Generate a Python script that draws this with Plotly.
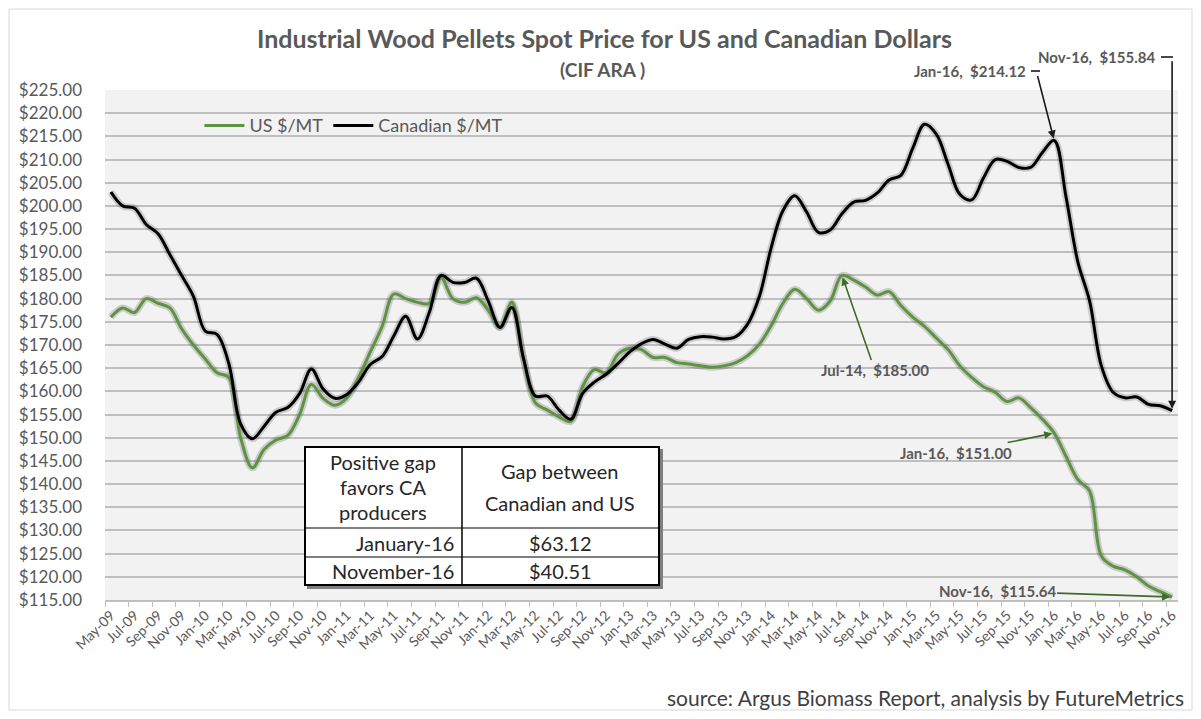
import pandas as pd
import plotly.graph_objects as go

# ---------------- data ----------------
months = list(pd.date_range("2009-05-01", "2016-11-01", freq="MS").strftime("%b-%y"))

us_price = [
    176, 178, 177, 180, 179, 178, 173.5, 170, 167, 164,
    163, 150, 143.5, 147.5, 149.5, 150.5, 155, 161.5, 158.5, 157,
    158.5, 163, 168.5, 174, 181, 180, 179.2, 179, 184.5, 180,
    179.2, 180.2, 177.5, 173.8, 179.2, 167, 157.5, 156, 154.5, 153.5,
    161, 164.7, 164, 168, 169.3, 169, 167.3, 167.3, 166.2, 165.9,
    165.5, 165.2, 165.5, 166.2, 167.7, 170.2, 174.2, 179, 182, 180,
    177.5, 179.5, 185, 184, 182.5, 180.8, 181.5, 178.5, 176, 174,
    171.5, 169, 165.5, 163, 161, 159.8, 157.8, 158.6, 156.5, 154,
    151, 146, 141, 138.5, 124.5, 122.3, 121.5, 120, 118, 116.8,
    115.64]

ca_price = [
    203, 200, 199.5, 196, 194, 189.5, 185, 180.5, 173, 172.3,
    166, 153, 149.8, 152.5, 155.5, 156.5, 159.5, 164.8, 160.5, 158.5,
    159.3, 162, 165.8, 167.5, 172, 176.2, 171.3, 177, 185, 183.5,
    183.5, 184.4, 179.5, 173.8, 178.1, 167, 159, 159, 156, 154,
    159.5, 162, 163.7, 166, 168.5, 170.3, 171.2, 170.2, 169.3, 171.2,
    171.8, 171.7, 171.3, 171.8, 174.5, 180.5, 191, 199, 202.2, 198.7,
    194.3, 194.8, 198.3, 200.8, 201.2, 202.8, 205.6, 206.6, 212.4, 217.6,
    215.5, 209, 202.5, 201.3, 206, 210, 209.6, 208.3, 208.3, 211.5,
    214.12, 202, 188, 179.5, 165.5, 159.8, 158.6, 158.8, 157.2, 156.9,
    155.84]

series_names = ["US $/MT", "Canadian $/MT"]
series_colors = ["#5e9441", "#000000"]

table_header = [["Positive gap", "favors CA", "producers"], ["Gap between", "Canadian and US"]]
table_rows = ["January-16", "November-16"]
table_gaps = ["$63.12", "$40.51"]

title_text = "Industrial Wood Pellets Spot Price for US and Canadian Dollars"
subtitle_text = "(CIF ARA )"
source_text = "source: Argus Biomass Report, analysis by FutureMetrics"

FONT = "Lato, Carlito, 'Open Sans', sans-serif"
GREY = "#595959"

fig = go.Figure()

# soft shadows under the lines
for vals in (us_price, ca_price):
    fig.add_trace(go.Scatter(x=months, y=vals, mode="lines", line=dict(color="rgba(0,0,0,0.16)", width=7, shape="spline"),
                             showlegend=False, hoverinfo="skip"))

for name, vals, col in zip(series_names, (us_price, ca_price), series_colors):
    fig.add_trace(go.Scatter(x=months, y=vals, mode="lines", name=name,
                             line=dict(color=col, width=3, shape="spline")))

# ---------------- annotations ----------------
# page-pixel -> paper coordinates (plot area spans x 105..1178, y 90..600 on the page)
def px2paper(px, py):
    return (px - 105) / 1073, (600 - py) / 510

ann = []
x_, y_ = px2paper(604, 38)
ann.append(dict(xref="paper", yref="paper", x=x_, y=y_, text="<b>" + title_text + "</b>", showarrow=False,
                font=dict(family=FONT, size=25, color=GREY), xanchor="center", yanchor="middle"))
x_, y_ = px2paper(602, 70)
ann.append(dict(xref="paper", yref="paper", x=x_, y=y_, text="<b>" + subtitle_text + "</b>", showarrow=False,
                font=dict(family=FONT, size=19, color=GREY), xanchor="center", yanchor="middle"))
x_, y_ = px2paper(1186, 697)
ann.append(dict(xref="paper", yref="paper", x=x_, y=y_, text=source_text, showarrow=False,
                font=dict(family=FONT, size=21, color="#404040"), xanchor="right", yanchor="middle"))

lab_font = dict(family=FONT, size=15, color=GREY)
dark_green = "#3d6b2a"
jul14 = months.index("Jul-14")
jan16 = months.index("Jan-16")
nov16 = months.index("Nov-16")

# Jul-14 US
ann.append(dict(x=months[jul14], y=us_price[jul14], text="<b>Jul-14,  $%.2f</b>" % us_price[jul14], font=lab_font,
                showarrow=True, ax=33, ay=95, arrowhead=2, arrowsize=1, arrowwidth=1.6, arrowcolor=dark_green, standoff=2))
# Jan-16 US
ann.append(dict(x=months[jan16], y=us_price[jan16], text="<b>Jan-16,  $%.2f</b>" % us_price[jan16], font=lab_font,
                showarrow=True, ax=-98, ay=20, arrowhead=2, arrowsize=1, arrowwidth=1.6, arrowcolor=dark_green, standoff=2))
# Nov-16 US
ann.append(dict(x=months[nov16], y=us_price[nov16], text="<b>Nov-16,  $%.2f</b>" % us_price[nov16], font=lab_font,
                showarrow=True, ax=-175, ay=-6, arrowhead=2, arrowsize=1, arrowwidth=1.6, arrowcolor=dark_green, standoff=2))

# Jan-16 Canadian (elbow)
x_, y_ = px2paper(1028, 71)
ann.append(dict(xref="paper", yref="paper", x=x_, y=y_,
                text="<b>Jan-16,  $%.2f</b>" % ca_price[jan16], font=lab_font, showarrow=False,
                xanchor="right", yanchor="middle"))
ann.append(dict(x=months[jan16], y=ca_price[jan16], text="", showarrow=True, ax=-17, ay=-66,
                arrowhead=2, arrowsize=1, arrowwidth=1.6, arrowcolor="#1a1a1a", standoff=2))
# Nov-16 Canadian (elbow)
x_, y_ = px2paper(1157, 57)
ann.append(dict(xref="paper", yref="paper", x=x_, y=y_,
                text="<b>Nov-16,  $%.2f</b>" % ca_price[nov16], font=lab_font, showarrow=False,
                xanchor="right", yanchor="middle"))
ann.append(dict(x=months[nov16], y=ca_price[nov16], text="", showarrow=True, ax=0, ay=-351,
                arrowhead=2, arrowsize=1, arrowwidth=1.6, arrowcolor="#1a1a1a", standoff=2))

# table text
tfont = dict(family=FONT, size=20, color="#262626")
for k, line in enumerate(table_header[0]):
    xx, yy = px2paper(383, 462 + 25 * k)
    ann.append(dict(xref="paper", yref="paper", x=xx, y=yy, text=line, showarrow=False, font=tfont,
                    xanchor="center", yanchor="middle"))
for k, line in enumerate(table_header[1]):
    xx, yy = px2paper(560, 471 + 32 * k)
    ann.append(dict(xref="paper", yref="paper", x=xx, y=yy, text=line, showarrow=False, font=tfont,
                    xanchor="center", yanchor="middle"))
for k, (lab, gap) in enumerate(zip(table_rows, table_gaps)):
    xx, yy = px2paper(456, 543 + 28 * k)
    ann.append(dict(xref="paper", yref="paper", x=xx, y=yy, text=lab, showarrow=False, font=tfont,
                    xanchor="right", yanchor="middle"))
    xx, yy = px2paper(560, 543 + 28 * k)
    ann.append(dict(xref="paper", yref="paper", x=xx, y=yy, text=gap, showarrow=False, font=tfont,
                    xanchor="center", yanchor="middle"))

# ---------------- shapes ----------------
shapes = []
bx0, by0 = px2paper(9, 710)
bx1, by1 = px2paper(1192, 9)
shapes.append(dict(type="rect", xref="paper", yref="paper", x0=bx0, y0=by0, x1=bx1, y1=by1,
                   line=dict(color="#d9d9d9", width=1), fillcolor="rgba(0,0,0,0)", layer="below"))
tx0, ty0 = px2paper(305, 585)
tx1, ty1 = px2paper(659, 447)
sx, sy = 3 / 1073, 3 / 510
shapes.append(dict(type="rect", xref="paper", yref="paper", x0=tx0 + sx, y0=ty0 - sy, x1=tx1 + sx, y1=ty1 - sy,
                   line=dict(color="#7f7f7f", width=2), fillcolor="#7f7f7f"))
shapes.append(dict(type="rect", xref="paper", yref="paper", x0=tx0, y0=ty0, x1=tx1, y1=ty1,
                   line=dict(color="#000000", width=2), fillcolor="#ffffff"))
cx, _ = px2paper(462, 0)
shapes.append(dict(type="line", xref="paper", yref="paper", x0=cx, x1=cx, y0=ty0, y1=ty1,
                   line=dict(color="#000000", width=1.5)))
for py in (528, 557):
    _, ry = px2paper(0, py)
    shapes.append(dict(type="line", xref="paper", yref="paper", x0=tx0, x1=tx1, y0=ry, y1=ry,
                       line=dict(color="#000000", width=1.2)))
ex0, ey = px2paper(1031, 71)
ex1, _ = px2paper(1040, 71)
shapes.append(dict(type="line", xref="paper", yref="paper", x0=ex0, x1=ex1, y0=ey, y1=ey,
                   line=dict(color="#1a1a1a", width=1.6)))
ex0, ey = px2paper(1161, 57)
ex1, _ = px2paper(1173, 57)
shapes.append(dict(type="line", xref="paper", yref="paper", x0=ex0, x1=ex1, y0=ey, y1=ey,
                   line=dict(color="#1a1a1a", width=1.6)))

# the page body has an 8px margin, so the figure is 1185x703 and margins are offset by 8
fig.update_layout(
    width=1185, height=703,
    margin=dict(l=97, r=15, t=82, b=111, pad=0, autoexpand=False),
    paper_bgcolor="#ffffff", plot_bgcolor="#f2f2f2",
    font=dict(family=FONT, color=GREY),
    showlegend=True,
    legend=dict(orientation="h", x=0.088, y=0.93, xanchor="left", yanchor="middle",
                bgcolor="rgba(0,0,0,0)", font=dict(family=FONT, size=18, color=GREY),
                itemwidth=40, traceorder="normal"),
    annotations=ann, shapes=shapes,
    xaxis=dict(type="category", categoryorder="array", categoryarray=months, automargin=False,
               range=[-0.5, len(months) - 0.5], tickmode="linear", tick0=0, dtick=2,
               tickangle=-45, tickson="boundaries", ticks="outside", ticklen=5, tickcolor="#bfbfbf",
               showgrid=False, showline=True, linecolor="#bfbfbf", linewidth=1.5,
               tickfont=dict(family=FONT, size=14, color=GREY), zeroline=False),
    yaxis=dict(range=[115, 225], dtick=5, tick0=115, tickprefix="$", tickformat=".2f", automargin=False,
               showgrid=True, gridcolor="#bfbfbf", gridwidth=2, zeroline=False, showline=False,
               ticks="", ticklabelstandoff=22,
               tickfont=dict(family=FONT, size=17, color=GREY)),
    hovermode=False,
)

fig.write_html("out.html")
